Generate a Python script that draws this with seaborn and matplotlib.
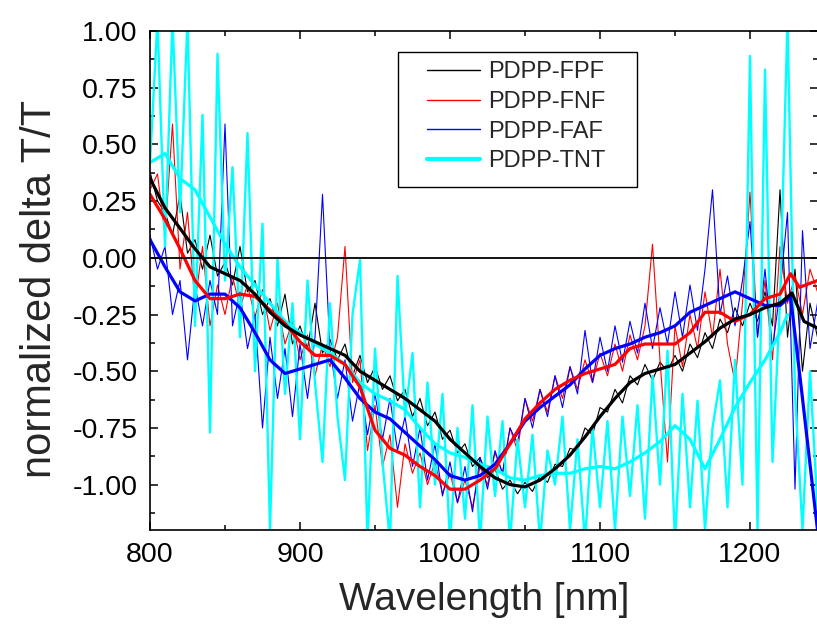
import numpy as np
import pandas as pd
import seaborn as sns
import matplotlib
matplotlib.use("Agg")
import matplotlib.pyplot as plt
from matplotlib.patches import Rectangle
from matplotlib.ticker import MultipleLocator, FormatStrFormatter

# ---------------- data ----------------
wl_raw = list(range(800, 1250, 5))

fpf_raw = [0.38, 0.25, 0.20, 0.10, 0.28, 0.02, 0.08, -0.05, 0.10, -0.08,
           -0.02, -0.12, 0.05, -0.15, -0.10, -0.25, -0.18, -0.30, -0.16, -0.38,
           -0.30, -0.40, -0.20, -0.42, -0.36, -0.45, -0.38, -0.52, -0.43, -0.55,
           -0.48, -0.58, -0.52, -0.63, -0.58, -0.70, -0.62, -0.74, -0.68, -0.80,
           -0.76, -0.86, -0.82, -0.92, -0.88, -0.97, -0.93, -1.02, -0.98, -1.04,
           -0.99, -1.03, -0.96, -0.99, -0.91, -0.92, -0.84, -0.85, -0.75, -0.78,
           -0.66, -0.68, -0.58, -0.64, -0.52, -0.56, -0.47, -0.54, -0.46, -0.50,
           -0.43, -0.50, -0.38, -0.44, -0.33, -0.40, -0.27, -0.33, -0.22, -0.30,
           -0.20, -0.28, -0.15, -0.30, 0.30, -0.35, -0.05, -0.50, -0.20, -0.35]

fnf_raw = [0.30, 0.37, 0.10, 0.59, -0.05, 0.20, -0.20, 0.05, -0.30, -0.12,
           -0.25, -0.08, -0.22, -0.12, -0.26, -0.14, -0.32, -0.20, -0.38, -0.28,
           -0.45, -0.34, -0.52, -0.38, -0.48, -0.35, 0.05, -0.55, -0.45, -0.85,
           -0.65, -0.92, -0.78, -1.10, -0.82, -0.95, -0.86, -1.00, -0.90, -1.04,
           -0.95, -1.08, -0.98, -1.10, -0.92, -1.00, -0.86, -0.95, -0.75, -0.85,
           -0.62, -0.72, -0.58, -0.68, -0.52, -0.62, -0.48, -0.58, -0.45, -0.55,
           -0.42, -0.52, -0.38, -0.50, -0.34, -0.45, -0.30, 0.06, -0.45, -0.90,
           -0.30, -0.48, -0.25, -0.40, -0.15, -0.35, -0.05, -0.38, -0.55, -0.20,
           0.29, -0.35, -0.10, -0.45, 0.05, -0.20, -0.08, -0.25, -0.05, -0.15]

faf_raw = [0.10, -0.05, 0.05, -0.25, -0.10, -0.45, -0.12, -0.30, -0.10, -0.25,
           0.59, -0.30, -0.15, -0.40, -0.25, -0.75, -0.35, -0.62, -0.40, -0.70,
           -0.38, -0.62, -0.35, 0.28, -0.40, -0.62, -0.45, -0.72, -0.55, -0.78,
           -0.60, -0.80, -0.62, -0.85, -0.70, -0.92, -0.75, -0.98, -0.82, -1.05,
           -0.90, -1.08, -0.92, -1.12, -0.88, -1.02, -0.85, -0.95, -0.75, -0.82,
           -0.62, -0.75, -0.58, -0.70, -0.52, -0.66, -0.48, -0.60, -0.32, -0.55,
           -0.35, -0.50, -0.30, -0.46, -0.28, -0.42, -0.20, -0.40, -0.22, -0.38,
           -0.15, -0.35, -0.12, -0.32, -0.05, 0.30, -0.25, -0.08, -0.30, -0.10,
           0.16, -0.35, -0.05, -0.40, -0.15, 0.20, -1.02, 0.12, -0.40, -0.20]

tnt_raw = [0.42, 1.05, 0.05, 1.05, 0.20, 1.05, -0.30, 0.63, -0.77, 0.90,
           -0.10, 0.40, -0.35, 0.55, -0.50, 0.15, -1.20, 0.00, -0.60, -0.20,
           -0.80, -0.10, -0.55, -0.90, -0.20, -0.70, -0.98, -0.25, -0.01, -1.25,
           -0.40, -0.90, -1.25, -0.08, -0.70, -0.42, -1.10, -0.55, -1.00, -0.60,
           -1.25, -0.75, -1.15, -0.65, -1.25, -0.70, -1.05, -0.72, -1.25, -0.80,
           -1.10, -0.78, -1.25, -0.85, -1.00, -0.70, -1.20, -0.80, -1.25, -0.75,
           -1.10, -0.72, -1.20, -0.70, -1.05, -0.65, -1.15, -0.52, -1.00, -0.41,
           -1.25, -0.60, -1.10, -0.63, -1.20, -0.75, -0.54, -1.10, -0.45, -1.00,
           0.89, -1.20, 0.83, -0.90, -0.20, 1.05, -0.60, -1.20, -0.50, -1.10]

wl_fpf_s = [800, 810, 820, 830, 840, 850, 860, 870, 880, 890, 900, 910, 920, 930,
            940, 950, 960, 970, 980, 990, 1000, 1010, 1020, 1030, 1040, 1050, 1060,
            1070, 1080, 1090, 1100, 1110, 1120, 1130, 1140, 1150, 1160, 1170, 1180,
            1190, 1200, 1210, 1220, 1228, 1236, 1245]
fpf_s = [0.35, 0.22, 0.13, 0.04, -0.04, -0.07, -0.10, -0.16, -0.24, -0.30, -0.34,
         -0.37, -0.40, -0.43, -0.50, -0.54, -0.58, -0.62, -0.67, -0.72, -0.80, -0.86,
         -0.92, -0.97, -1.00, -1.01, -0.98, -0.93, -0.87, -0.79, -0.70, -0.62, -0.55,
         -0.51, -0.49, -0.47, -0.42, -0.37, -0.31, -0.27, -0.25, -0.22, -0.20, -0.155,
         -0.28, -0.31]

wl_fnf_s = [800, 810, 820, 830, 840, 850, 860, 870, 880, 890, 900, 910, 920, 930,
            940, 950, 960, 970, 980, 990, 1000, 1010, 1020, 1030, 1040, 1050, 1060,
            1070, 1080, 1090, 1100, 1110, 1120, 1130, 1140, 1150, 1160, 1170, 1180,
            1190, 1200, 1210, 1220, 1227, 1233, 1245]
fnf_s = [0.28, 0.17, 0.04, -0.10, -0.18, -0.18, -0.16, -0.17, -0.23, -0.29, -0.37,
         -0.43, -0.43, -0.47, -0.57, -0.76, -0.84, -0.87, -0.92, -0.96, -1.02, -1.02,
         -0.98, -0.93, -0.82, -0.71, -0.64, -0.58, -0.54, -0.51, -0.49, -0.47, -0.40,
         -0.38, -0.38, -0.38, -0.33, -0.24, -0.24, -0.28, -0.25, -0.18, -0.16, -0.07,
         -0.13, -0.10]

wl_faf_s = [800, 810, 820, 830, 840, 850, 860, 870, 880, 890, 900, 910, 920, 930,
            940, 950, 960, 970, 980, 990, 1000, 1010, 1020, 1030, 1040, 1050, 1060,
            1070, 1080, 1090, 1100, 1110, 1120, 1130, 1140, 1150, 1160, 1170, 1180,
            1190, 1200, 1210, 1220, 1227, 1235, 1245]
faf_s = [0.08, -0.04, -0.15, -0.19, -0.16, -0.16, -0.22, -0.33, -0.45, -0.51, -0.49,
         -0.47, -0.45, -0.53, -0.62, -0.68, -0.71, -0.77, -0.83, -0.89, -0.96, -0.98,
         -0.96, -0.91, -0.82, -0.72, -0.66, -0.61, -0.56, -0.49, -0.43, -0.40, -0.38,
         -0.35, -0.33, -0.30, -0.24, -0.21, -0.18, -0.15, -0.18, -0.21, -0.21, -0.17,
         -0.62, -1.20]

wl_tnt_s = [800, 810, 820, 830, 840, 850, 860, 870, 880, 890, 900, 910, 920, 930,
            940, 950, 960, 970, 980, 990, 1000, 1010, 1020, 1030, 1040, 1050, 1060,
            1070, 1080, 1090, 1100, 1110, 1120, 1130, 1140, 1150, 1160, 1170, 1180,
            1190, 1200, 1210, 1220, 1225]
tnt_s = [0.42, 0.46, 0.35, 0.30, 0.18, 0.06, -0.04, -0.12, -0.20, -0.28, -0.33,
         -0.38, -0.42, -0.47, -0.55, -0.60, -0.63, -0.67, -0.75, -0.82, -0.86, -0.88,
         -0.91, -0.93, -0.97, -0.98, -0.96, -0.95, -0.95, -0.93, -0.92, -0.93, -0.90,
         -0.86, -0.81, -0.74, -0.80, -0.93, -0.80, -0.66, -0.55, -0.45, -0.33, -0.25]

labels = ["PDPP-FPF", "PDPP-FNF", "PDPP-FAF", "PDPP-TNT"]
colors = ["#000000", "#ff0000", "#0000ff", "#00ffff"]

x_ticks = [800, 900, 1000, 1100, 1200]
y_ticks = [-1.00, -0.75, -0.50, -0.25, 0.00, 0.25, 0.50, 0.75, 1.00]

# ---------------- figure ----------------
sns.set_theme(style="ticks")
plt.rcParams["font.family"] = ["Liberation Sans", "DejaVu Sans"]

W, H = 817, 628
fig = plt.figure(figsize=(W / 100, H / 100), dpi=100)
ax = fig.add_axes([150 / W, 1 - 530 / H, 668 / W, (530 - 31) / H])

raw_sets = [fpf_raw, fnf_raw, faf_raw, tnt_raw]
raw_lw = [0.8, 0.8, 0.8, 1.7]
for vals, c, lw in zip(raw_sets, colors, raw_lw):
    df = pd.DataFrame({"wl": wl_raw, "v": vals})
    sns.lineplot(data=df, x="wl", y="v", color=c, lw=lw, ax=ax,
                 estimator=None, sort=False, legend=False)

smooth_sets = [(wl_tnt_s, tnt_s, colors[3]), (wl_faf_s, faf_s, colors[2]),
               (wl_fnf_s, fnf_s, colors[1]), (wl_fpf_s, fpf_s, colors[0])]
for xs, ys, c in smooth_sets:
    df = pd.DataFrame({"wl": xs, "v": ys})
    sns.lineplot(data=df, x="wl", y="v", color=c, lw=2.3, ax=ax,
                 estimator=None, sort=False, legend=False)

ax.axhline(0, color="black", lw=1.3, zorder=5)

ax.set_xlim(800, 800 + 668 / 1.5)
ax.set_ylim(-1.2, 1.0)
ax.set_xticks(x_ticks)
ax.set_yticks(y_ticks)
ax.xaxis.set_minor_locator(MultipleLocator(50))
ax.yaxis.set_minor_locator(MultipleLocator(0.125))
ax.yaxis.set_major_formatter(FormatStrFormatter("%.2f"))
ax.tick_params(which="both", direction="in", top=True, right=True,
               colors="black", width=1.1, labelsize=20.5)
ax.tick_params(which="major", length=6, pad=9)
ax.tick_params(which="minor", length=3.5)
for s in ax.spines.values():
    s.set_color("black")
    s.set_linewidth(1.2)

ax.set_xlabel("Wavelength [nm]", fontsize=28, labelpad=10)
ax.set_ylabel("normalized delta T/T", fontsize=30)
ax.yaxis.set_label_coords((60 - 150) / 668, (530 - 289) / 499)

# legend frame (white box) + legend entries
frame = Rectangle((398 / W, 1 - 187 / H), 239 / W, 135 / H,
                  transform=fig.transFigure, facecolor="white",
                  edgecolor="black", lw=1.0, zorder=9, clip_on=False)
ax.add_artist(frame)

handles = [plt.Line2D([], [], color=c, lw=lw) for c, lw in
           zip(colors, [1.0, 1.0, 1.0, 3.0])]
leg = ax.legend(handles, labels, loc="upper left",
                bbox_to_anchor=(427 / W, 1 - 61 / H), bbox_transform=fig.transFigure,
                borderaxespad=0, borderpad=0, fontsize=17, frameon=False,
                handlelength=2.25, handletextpad=0.34, labelspacing=0.33)
leg.set_zorder(10)

fig.savefig("out.png", dpi=100)
